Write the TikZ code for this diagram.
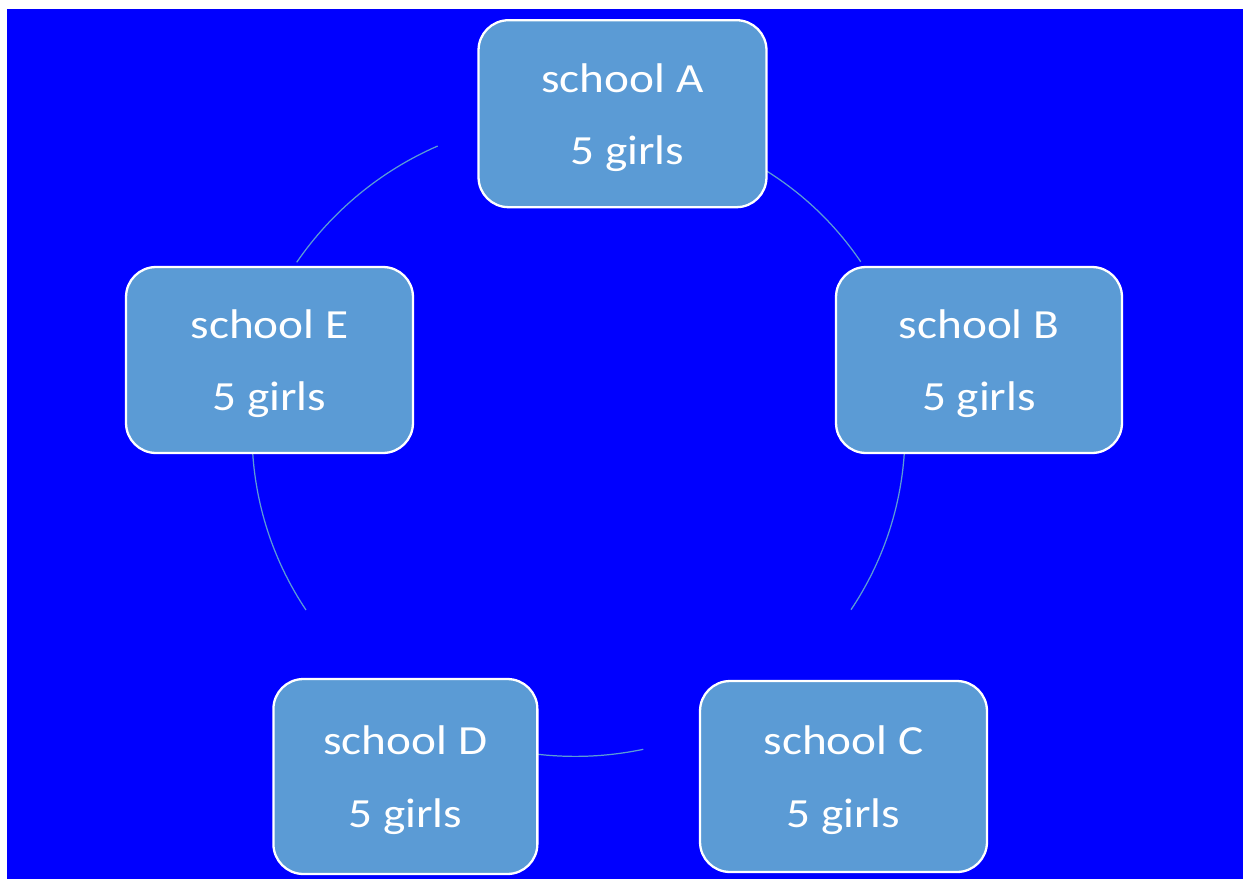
\documentclass[tikz,border=0pt]{standalone}
\usepackage{fontspec}
\setmainfont{Carlito}
\usepackage{graphicx}
\definecolor{bg}{HTML}{0000FF}
\definecolor{boxfill}{HTML}{5B9BD5}
\begin{document}
\begin{tikzpicture}[x=0.02cm,y=-0.02cm,
  schoolbox/.style={draw=white, line width=1.3pt, fill=boxfill, rounded corners=0.6cm, inner sep=0pt},
  lbl/.style={text=white, anchor=base, inner sep=0pt, font=\fontsize{23.6pt}{28pt}\selectfont},
  ring/.style={draw=boxfill, line width=0.7pt, looseness=0.87}]
\useasboundingbox (0,0) rectangle (1243,879);
\fill[bg] (7,9) rectangle (1243,879);
% ring pieces
\coordinate (ea1) at (296.7,262.3);
\coordinate (ea2) at (437.7,146);
\coordinate (ab1) at (765,170);
\coordinate (ab2) at (860.7,261.7);
\coordinate (bc1) at (904.3,453);
\coordinate (bc2) at (851,609.7);
\coordinate (cd1) at (643.3,749.3);
\coordinate (cd2) at (538,754.3);
\coordinate (de1) at (306,610);
\coordinate (de2) at (252.7,453);
\draw[ring] (ea1) to[bend left=16] (ea2);
\draw[ring] (ab1) to[bend left=12] (ab2);
\draw[ring] (bc1) to[bend left=15] (bc2);
\draw[ring] (cd1) to[bend left=9] (cd2);
\draw[ring] (de1) to[bend left=15] (de2);
% boxes
\node[schoolbox, minimum width=5.76cm, minimum height=3.74cm] (A) at (622.5,113.7) {};
\node[schoolbox, minimum width=5.72cm, minimum height=3.72cm] (B) at (979,360) {};
\node[schoolbox, minimum width=5.74cm, minimum height=3.82cm] (C) at (843.5,776.5) {};
\node[schoolbox, minimum width=5.28cm, minimum height=3.90cm] (D) at (405.4,776.5) {};
\node[schoolbox, minimum width=5.74cm, minimum height=3.72cm] (E) at (269.5,360) {};
% labels
\node[lbl] (A1) at ([yshift=0.434cm]A.center) {\scalebox{1.14}[1]{school A}};
\node[lbl] (A2) at ([yshift=-1.01cm]A.center) {\scalebox{1.14}[1]{\hspace*{0.2em}5 girls}};
\node[lbl] (B1) at ([yshift=0.434cm]B.center) {\scalebox{1.14}[1]{school B}};
\node[lbl] (B2) at ([yshift=-1.01cm]B.center) {\scalebox{1.14}[1]{5 girls}};
\node[lbl] (C1) at ([yshift=0.434cm]C.center) {\scalebox{1.14}[1]{school C}};
\node[lbl] (C2) at ([yshift=-1.01cm]C.center) {\scalebox{1.14}[1]{5 girls}};
\node[lbl] (D1) at ([yshift=0.434cm]D.center) {\scalebox{1.14}[1]{school D}};
\node[lbl] (D2) at ([yshift=-1.01cm]D.center) {\scalebox{1.14}[1]{5 girls}};
\node[lbl] (E1) at ([yshift=0.434cm]E.center) {\scalebox{1.14}[1]{school E}};
\node[lbl] (E2) at ([yshift=-1.01cm]E.center) {\scalebox{1.14}[1]{5 girls}};
\end{tikzpicture}
\end{document}
